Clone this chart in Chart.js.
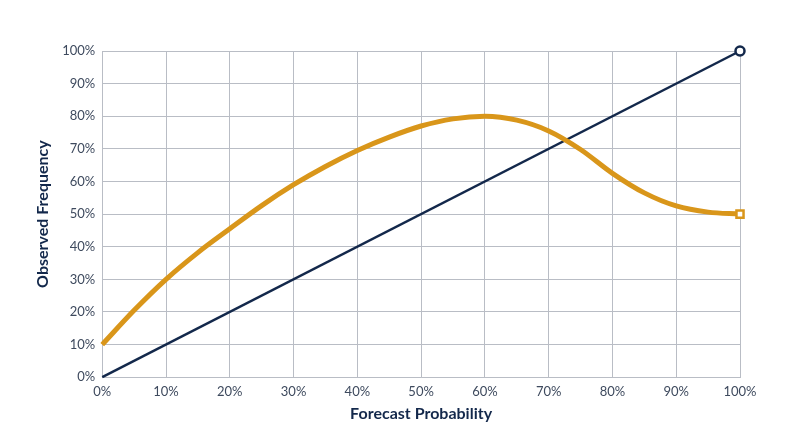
<!DOCTYPE html>
<html>
<head>
<meta charset="utf-8">
<script src="https://cdn.jsdelivr.net/npm/chart.js@4"></script>
<style>
  html, body { margin: 0; padding: 0; background: #fff; }
  #wrap { width: 800px; height: 447px; }
</style>
</head>
<body>
<div id="wrap"><canvas id="myChart" width="800" height="447"></canvas></div>
<script>
// forecast probability (x, in %)
const forecast = [0, 5, 10, 15, 20, 25, 30, 35, 40, 45, 50, 55, 60, 65, 70, 75, 80, 85, 90, 95, 100];
// observed frequency of the orange curve (in %)
const observed = [10, 20.5, 30, 38.2, 45.5, 52.6, 59, 64.6, 69.5, 73.6, 77, 79.2, 80, 78.8, 75.5, 69.8, 62.5, 56.5, 52.5, 50.6, 50];
// perfect reliability diagonal
const diagX = [0, 100];
const diagY = [0, 100];

const navy = "#13284b";
const orange = "#d9961a";
const gridColor = "#b9bdc5";

const lastIdx = forecast.length - 1;

const data = {
  datasets: [
    {
      label: "Diagonal",
      data: diagX.map((x, i) => ({ x: x, y: diagY[i] })),
      borderColor: navy,
      borderWidth: 2.5,
      pointRadius: (ctx) => (ctx.dataIndex === diagX.length - 1 ? 4.5 : 0),
      pointStyle: "circle",
      pointBackgroundColor: "#fff",
      pointBorderColor: navy,
      pointBorderWidth: 2.5,
      clip: false,
      order: 2,
    },
    {
      label: "Observed",
      data: forecast.map((x, i) => ({ x: x, y: observed[i] })),
      borderColor: orange,
      borderWidth: 5,
      cubicInterpolationMode: "monotone",
      pointRadius: (ctx) => (ctx.dataIndex === lastIdx ? 5 : 0),
      pointStyle: "rect",
      pointBackgroundColor: "#fff",
      pointBorderColor: orange,
      pointBorderWidth: 2.5,
      clip: false,
      order: 1,
    },
  ],
};

const config = {
  type: "line",
  data: data,
  options: {
    responsive: false,
    animation: false,
    layout: {
      padding: { left: 29, right: 60, top: 51, bottom: 15 },
    },
    plugins: {
      legend: false,
      tooltip: { enabled: false },
    },
    scales: {
      x: {
        type: "linear",
        min: 0,
        max: 100,
        grid: { color: gridColor, lineWidth: 1, drawTicks: false },
        border: { color: gridColor },
        ticks: {
          stepSize: 10,
          padding: 7,
          color: "#3e4a5e",
          font: { family: "Lato", size: 13 },
          callback: (v) => v + "%",
        },
        title: {
          display: true,
          text: "Forecast Probability",
          color: navy,
          font: { family: "Lato", size: 16, weight: "bold" },
          padding: { top: -3, bottom: 9 },
        },
      },
      y: {
        min: 0,
        max: 100,
        grid: { color: gridColor, lineWidth: 1, drawTicks: false },
        border: { color: gridColor },
        ticks: {
          stepSize: 10,
          padding: 7,
          color: "#3e4a5e",
          font: { family: "Lato", size: 13 },
          callback: (v) => v + "%",
        },
        title: {
          display: true,
          text: "Observed Frequency",
          color: navy,
          font: { family: "Lato", size: 16, weight: "bold" },
          padding: { bottom: 3 },
        },
      },
    },
  },
};

const context = document.getElementById("myChart").getContext("2d");
const chart = new Chart(context, config);
</script>
</body>
</html>
